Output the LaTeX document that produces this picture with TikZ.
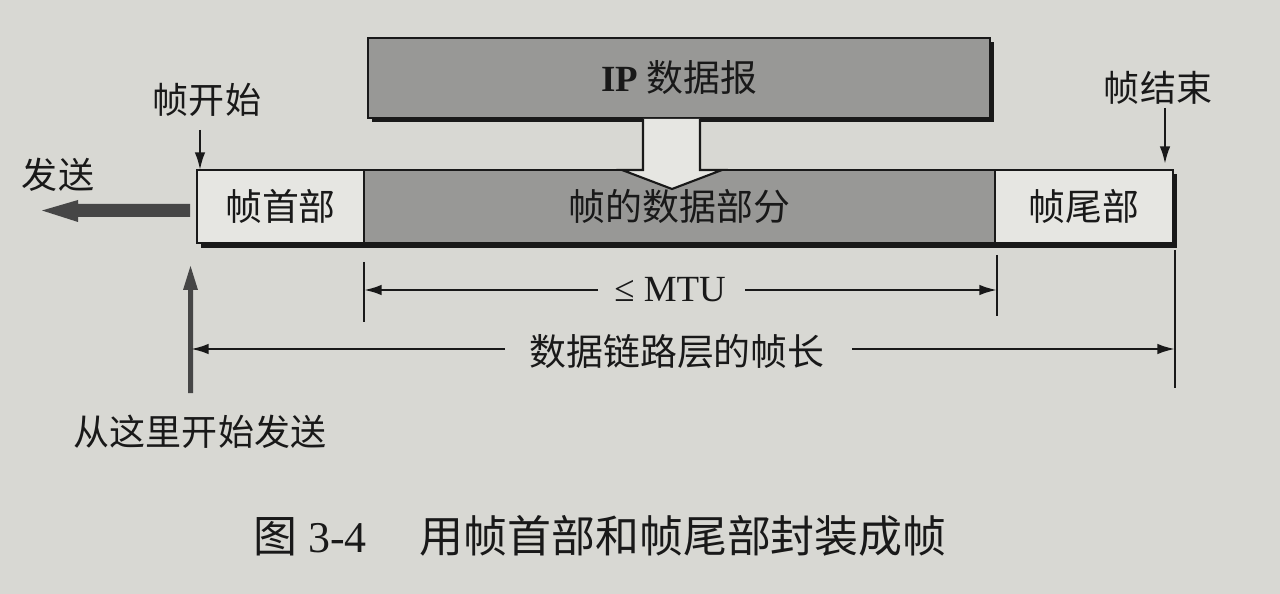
\documentclass[tikz,border=0pt]{standalone}
\usepackage{fontspec}
\setmainfont{Liberation Serif}
\newfontfamily\cjk{Noto Sans CJK SC}
\usetikzlibrary{arrows.meta}
\definecolor{paper}{RGB}{216,216,211}
\definecolor{lightbox}{RGB}{230,230,226}
\definecolor{darkbox}{RGB}{152,152,150}
\definecolor{ink}{RGB}{25,25,25}
\definecolor{hatch}{RGB}{70,70,70}
\tikzset{
  lbl/.style={font=\cjk\fontsize{20.5}{24}\selectfont, text=ink, inner sep=0pt},
  boxtxt/.style={font=\cjk\fontsize{21}{25}\selectfont, text=ink},
  fbox/.style={draw=ink, line width=1.2pt, inner sep=0pt, boxtxt},
  shadow/.style={fill=ink, draw=none},
  thin/.style={draw=ink, line width=1.3pt, -{Latex[length=10pt,width=6pt]}},
  tick/.style={draw=ink, line width=1.3pt},
}
\begin{document}
\begin{tikzpicture}[x=0.02cm,y=-0.02cm]
\fill[paper] (0,0) rectangle (1280,594);
\useasboundingbox (0,0) rectangle (1280,594);
% shadows
\fill[shadow] (372,42) rectangle (994,122);
\fill[shadow] (201,174) rectangle (1177,248);
% IP datagram
\node[fbox, fill=darkbox, minimum width=12.44cm, minimum height=1.6cm] (ip) at (679,78) {{\rmfamily\bfseries IP} 数据报};
% frame
\node[fbox, fill=lightbox, minimum width=3.34cm, minimum height=1.46cm] (hdr) at (280.5,206.5) {帧首部};
\node[fbox, fill=darkbox, minimum width=12.62cm, minimum height=1.46cm] (dat) at (679.5,206.5) {帧的数据部分};
\node[fbox, fill=lightbox, minimum width=3.56cm, minimum height=1.46cm] (trl) at (1084,206.5) {帧尾部};
% hollow arrow
\filldraw[fill=lightbox, draw=ink, line width=1.2pt, line join=miter]
  (643,119) -- (643,170) -- (622,170) -- (672,189) -- (722,170) -- (700,170) -- (700,119);
% top labels
\node[lbl] (fs) at (207,100) {帧开始};
\coordinate (fsTip) at (200,170);
\draw[thin] (200,130) -- (fsTip);
\node[lbl] (fe) at (1158,88) {帧结束};
\coordinate (feTip) at (1165,164);
\draw[thin] (1165,108) -- (feTip);
% send arrow
\node[lbl] (send) at (58,175) {发送};
\fill[hatch] (190,204) -- (78,204) -- (78,200) -- (42,210.5) -- (78,222) -- (78,217) -- (190,217) -- cycle;
% up arrow
\fill[hatch] (188,393) -- (188,290) -- (183,290) -- (190.5,266) -- (198,290) -- (193,290) -- (193,393) -- cycle;
\node[lbl] (here) at (200,432) {从这里开始发送};
% MTU dimension
\coordinate (m1) at (364,290);
\coordinate (m2) at (997,290);
\draw[tick] (364,262) -- (364,322);
\draw[tick] (997,255) -- (997,316);
\node[font=\fontsize{21}{25}\selectfont, text=ink, inner sep=0pt] (mtu) at (670,290) {≤ MTU};
\draw[thin] (598,290) -- (m1);
\draw[thin] (745,290) -- (m2);
% frame length dimension
\coordinate (l1) at (191,349);
\coordinate (l2) at (1175,349);
\draw[tick] (1175,250) -- (1175,388);
\node[boxtxt, inner sep=0pt] (len) at (677,352) {数据链路层的帧长};
\draw[thin] (505,349) -- (l1);
\draw[thin] (852,349) -- (l2);
% caption
\node[font=\fontsize{25}{30}\selectfont, text=ink, inner sep=0pt] (cap) at (600,536) {{\cjk 图} 3-4\hspace{1.2em}{\cjk 用帧首部和帧尾部封装成帧}};
\end{tikzpicture}
\end{document}
